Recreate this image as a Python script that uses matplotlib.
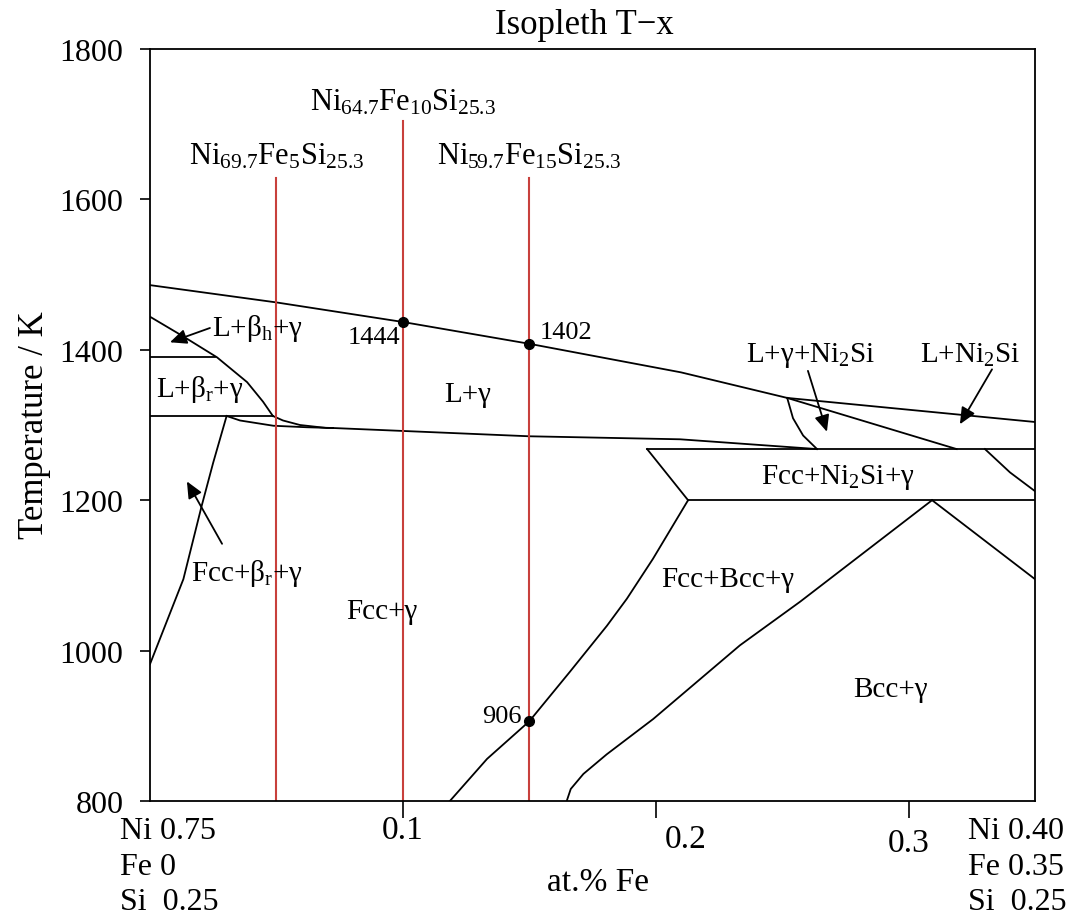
import matplotlib
matplotlib.use('Agg')
import matplotlib.pyplot as plt

plt.rcParams['font.family'] = ['Liberation Serif', 'DejaVu Serif']
plt.rcParams['mathtext.fontset'] = 'custom'
plt.rcParams['mathtext.rm'] = 'Liberation Serif'
plt.rcParams['mathtext.it'] = 'Liberation Serif:italic'
plt.rcParams['mathtext.default'] = 'regular'

# phase boundaries, x = at. fraction Fe, T in K
liq_x = [0, 0.05, 0.10, 0.15, 0.21, 0.252, 0.319]
liq_T = [1486, 1463, 1437, 1408, 1370, 1336, 1268]
ni2si_top_x = [0.252, 0.35]
ni2si_top_T = [1336, 1304]
knee_x = [0.252, 0.2543, 0.2583, 0.2638]
knee_T = [1336, 1309, 1286, 1268]
right_x = [0.3302, 0.3401, 0.35]
right_T = [1268, 1237, 1212]
h1268_x = [0.1966, 0.35]
h1268_T = [1268, 1268]
h1200_x = [0.2128, 0.35]
h1200_T = [1200, 1200]
diag_x = [0.1966, 0.2128]
diag_T = [1268, 1200]
fcc_bcc_x = [0.2128, 0.1989, 0.1886, 0.1807, 0.1661, 0.15, 0.1333, 0.1186]
fcc_bcc_T = [1200, 1122, 1069, 1033, 972, 906, 856, 800]
bcc_x = [0.1648, 0.1664, 0.1714, 0.1806, 0.1990, 0.2333, 0.2571, 0.3093]
bcc_T = [800, 816, 836, 862, 909, 1007, 1065, 1200]
apex_x = [0.3093, 0.35]
apex_T = [1200, 1095]
beta_x = [0, 0.01305, 0.0265, 0.0384, 0.0447, 0.0486]
beta_T = [1444, 1418, 1390, 1357, 1331, 1312]
h1390_x = [0, 0.0257]
h1390_T = [1390, 1390]
h1312_x = [0, 0.0486]
h1312_T = [1312, 1312]
up_branch_x = [0.0486, 0.0526, 0.0593, 0.0699, 0.0724]
up_branch_T = [1312, 1306, 1300, 1296, 1296]
lo_branch_x = [0.0303, 0.0356, 0.0488, 0.0620, 0.0724]
lo_branch_T = [1312, 1306, 1299, 1297, 1296]
sol_x = [0.0724, 0.1147, 0.15, 0.2096, 0.2638]
sol_T = [1296, 1290, 1285, 1281, 1268]
fcc_beta_x = [0.0303, 0.0250, 0.0204, 0.0132, 0]
fcc_beta_T = [1312, 1250, 1192, 1095, 982]

curves = [(liq_x, liq_T), (ni2si_top_x, ni2si_top_T), (knee_x, knee_T),
          (right_x, right_T), (h1268_x, h1268_T), (h1200_x, h1200_T),
          (diag_x, diag_T), (fcc_bcc_x, fcc_bcc_T), (bcc_x, bcc_T),
          (apex_x, apex_T), (beta_x, beta_T), (h1390_x, h1390_T),
          (h1312_x, h1312_T), (up_branch_x, up_branch_T),
          (lo_branch_x, lo_branch_T), (sol_x, sol_T), (fcc_beta_x, fcc_beta_T)]

# isopleth sections
iso_x = [0.05, 0.10, 0.15]
iso_top = [1628, 1704, 1628]
iso_names = [r'Ni$_{69.7}$Fe$_{5}$Si$_{25.3}$', r'Ni$_{64.7}$Fe$_{10}$Si$_{25.3}$',
             r'Ni$_{59.7}$Fe$_{15}$Si$_{25.3}$']
iso_label_T = [1658, 1730, 1658]

# marked points
pt_x = [0.10, 0.15, 0.15]
pt_T = [1437, 1408, 906]
pt_lab = ['1444', '1402', '906']
pt_lab_x = [0.0989, 0.1542, 0.1471]
pt_lab_T = [1417, 1424, 913]
pt_ha = ['right', 'left', 'right']

# region labels
reg_names = ['L+γ', r'L+β$_{r}$+γ', 'Fcc+γ', 'Fcc+Bcc+γ', 'Bcc+γ',
             r'Fcc+Ni$_{2}$Si+γ']
reg_x = [0.1258, 0.0198, 0.0918, 0.2286, 0.2927, 0.2721]
reg_T = [1341, 1348, 1053, 1095, 949, 1232]

# arrow labels: text, text position, arrow tail, arrow head
arr_names = [r'L+β$_{h}$+γ', r'Fcc+β$_{r}$+γ', r'L+γ+Ni$_{2}$Si', r'L+Ni$_{2}$Si']
arr_tx = [0.0245, 0.0384, 0.2614, 0.3243]
arr_tT = [1429, 1104, 1394, 1394]
arr_tail_x = [0.0237, 0.0285, 0.2602, 0.3330]
arr_tail_T = [1429, 1142, 1372, 1374]
arr_head_x = [0.0079, 0.0146, 0.2677, 0.3203]
arr_head_T = [1410, 1225, 1291, 1301]

fig = plt.figure(figsize=(10.83, 9.2), dpi=100)
ax = fig.add_axes([150 / 1083, 1 - 802 / 920, 885 / 1083, 752 / 920])

for cx, cT in curves:
    ax.plot(cx, cT, color='black', lw=1.3)

for x, top in zip(iso_x, iso_top):
    ax.plot([x, x], [800, top], color='#c8403c', lw=1.5)
for x, T, name in zip(iso_x, iso_label_T, iso_names):
    ax.text(x, T, name, ha='center', va='center', fontsize=22)

ax.plot(pt_x, pt_T, 'o', color='black', ms=7)
for lab, x, T, ha in zip(pt_lab, pt_lab_x, pt_lab_T, pt_ha):
    ax.text(x, T, lab, ha=ha, va='center', fontsize=19)

for name, x, T in zip(reg_names, reg_x, reg_T):
    ax.text(x, T, name, ha='center', va='center', fontsize=21)

aprops = dict(arrowstyle='-|>,head_length=1.0,head_width=0.45', color='black',
              lw=1.3, shrinkA=0, shrinkB=0)
for i, name in enumerate(arr_names):
    ha = 'left' if i == 0 else 'center'
    ax.text(arr_tx[i], arr_tT[i], name, ha=ha, va='center', fontsize=21)
    ax.annotate('', xy=(arr_head_x[i], arr_head_T[i]),
                xytext=(arr_tail_x[i], arr_tail_T[i]), arrowprops=aprops)

ax.set_xlim(0, 0.35)
ax.set_ylim(800, 1800)
ax.set_yticks([800, 1000, 1200, 1400, 1600, 1800])
ax.set_xticks([0.1, 0.2, 0.3])
ax.set_xticklabels([])
ax.tick_params(axis='y', direction='out', length=7, width=1.2, labelsize=23, pad=12)
ax.tick_params(axis='x', direction='out', length=12, width=1.2)
for sp in ax.spines.values():
    sp.set_linewidth(1.3)

# x tick labels (staggered as in the original)
xt = ax.get_xaxis_transform()
ax.text(0.1, -0.038, '0.1', transform=xt, ha='center', va='center', fontsize=24)
ax.text(0.212, -0.05, '0.2', transform=xt, ha='center', va='center', fontsize=24)
ax.text(0.30, -0.055, '0.3', transform=xt, ha='center', va='center', fontsize=24)
ax.text(0.1772, -0.108, 'at.% Fe', transform=xt, ha='center', va='center', fontsize=24)

fig.text(584 / 1083, 1 - 25 / 920, 'Isopleth T\u2212x', ha='center', va='center',
         fontsize=25)
fig.text(35 / 1083, 1 - 425 / 920, 'Temperature / K', rotation=90,
         ha='center', va='center', fontsize=25)

left_comp = ['Ni 0.75', 'Fe 0', 'Si  0.25']
right_comp = ['Ni 0.40', 'Fe 0.35', 'Si  0.25']
for k, py in enumerate([832, 868, 903]):
    fig.text(120 / 1083, 1 - py / 920, left_comp[k], ha='left', va='center', fontsize=23)
    fig.text(968 / 1083, 1 - py / 920, right_comp[k], ha='left', va='center', fontsize=23)

fig.savefig('out.png', dpi=100)
